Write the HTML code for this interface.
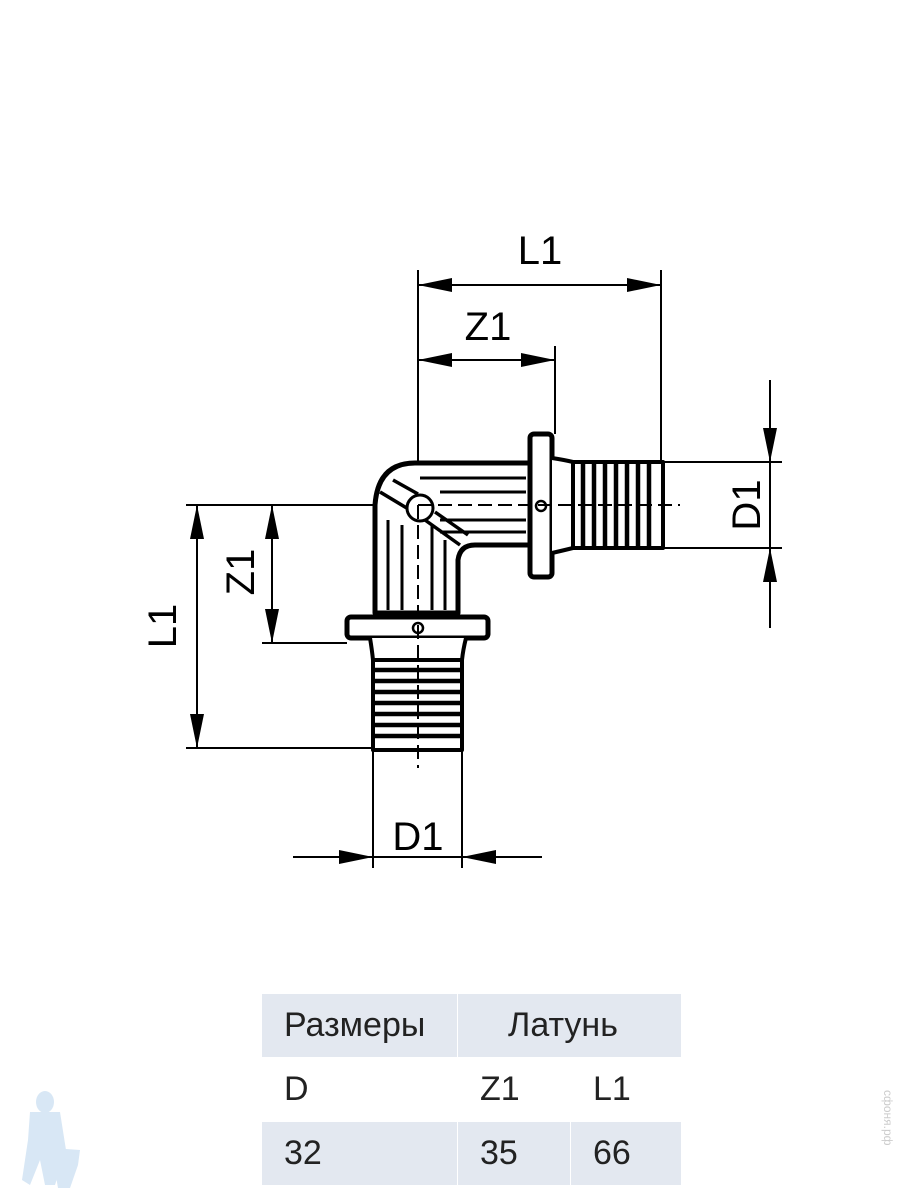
<!DOCTYPE html>
<html><head><meta charset="utf-8"><style>
html,body{margin:0;padding:0;background:#fff;width:900px;height:1200px;overflow:hidden}
svg{position:absolute;left:0;top:0}
table{position:absolute;left:261px;top:993px;border-collapse:collapse;font-family:"Liberation Sans",sans-serif;font-size:34px;color:#222}
td{padding:0 0 0 22px;height:63px;vertical-align:middle;border:1px solid #fff}
.g td{background:#e3e8f0}
</style></head><body>
<svg width="900" height="1200" viewBox="0 0 900 1200">
<defs>
<marker id="a" viewBox="0 0 34 14" refX="34" refY="7" markerWidth="34" markerHeight="14" markerUnits="userSpaceOnUse" orient="auto"><path d="M0,0L34,7L0,14z" fill="#000"/></marker>
</defs>
<g stroke="#000" stroke-width="2" fill="none">
<line x1="418" y1="270" x2="418" y2="462"/>
<line x1="661" y1="270" x2="661" y2="462"/>
<line x1="555" y1="346" x2="555" y2="434"/>
<line x1="663" y1="462" x2="782" y2="462"/>
<line x1="663" y1="548" x2="782" y2="548"/>
<line x1="186" y1="505" x2="418" y2="505"/>
<line x1="186" y1="748" x2="373" y2="748"/>
<line x1="262" y1="643" x2="347" y2="643"/>
<line x1="373" y1="750" x2="373" y2="868"/>
<line x1="462" y1="750" x2="462" y2="868"/>
<line x1="540" y1="285" x2="418" y2="285" marker-end="url(#a)"/>
<line x1="540" y1="285" x2="661" y2="285" marker-end="url(#a)"/>
<line x1="487" y1="360" x2="418" y2="360" marker-end="url(#a)"/>
<line x1="487" y1="360" x2="555" y2="360" marker-end="url(#a)"/>
<line x1="770" y1="380" x2="770" y2="462" marker-end="url(#a)"/>
<line x1="770" y1="628" x2="770" y2="548" marker-end="url(#a)"/>
<line x1="770" y1="462" x2="770" y2="548"/>
<line x1="197" y1="626" x2="197" y2="505" marker-end="url(#a)"/>
<line x1="197" y1="626" x2="197" y2="748" marker-end="url(#a)"/>
<line x1="272" y1="574" x2="272" y2="505" marker-end="url(#a)"/>
<line x1="272" y1="574" x2="272" y2="643" marker-end="url(#a)"/>
<line x1="293" y1="857" x2="373" y2="857" marker-end="url(#a)"/>
<line x1="542" y1="857" x2="462" y2="857" marker-end="url(#a)"/>
<line x1="373" y1="857" x2="462" y2="857"/>
</g>
<g stroke="#000" fill="#fff" stroke-width="5" stroke-linejoin="round">
<path d="M528,463 L415,463 Q378,463 375,505 L375,613 L458,613 L458,560 Q460,545 475,545 L528,545"/>
<path d="M380,492 L410,510 M393,480 L418,494 M425,520 L460,545 M435,512 L468,535" stroke-width="3.5"/>
<circle cx="420" cy="508" r="13" stroke-width="3"/>
<g stroke-width="3">
<line x1="420" y1="478" x2="526" y2="478"/>
<line x1="440" y1="492" x2="526" y2="492"/>
<line x1="440" y1="520" x2="526" y2="520"/>
<line x1="440" y1="532" x2="526" y2="532"/>
<line x1="388" y1="520" x2="388" y2="610"/>
<line x1="402" y1="525" x2="402" y2="610"/>
<line x1="432" y1="525" x2="432" y2="610"/>
<line x1="445" y1="540" x2="445" y2="610"/>
</g>
<rect x="530" y="434" width="22" height="143" rx="4"/>
<circle cx="541" cy="506" r="5" stroke-width="2.5"/>
<path d="M552,458 Q565,460 573,462 L573,548 Q565,550 552,553" stroke-width="4"/>
<rect x="573" y="462" width="90" height="86" stroke-width="4"/>
<g stroke-width="4.5">
<line x1="583" y1="462" x2="583" y2="548"/><line x1="594" y1="462" x2="594" y2="548"/><line x1="605" y1="462" x2="605" y2="548"/><line x1="616" y1="462" x2="616" y2="548"/><line x1="627" y1="462" x2="627" y2="548"/><line x1="638" y1="462" x2="638" y2="548"/><line x1="649" y1="462" x2="649" y2="548"/>
</g>
<rect x="347" y="617" width="141" height="21" rx="4"/>
<circle cx="418" cy="628" r="5" stroke-width="2.5"/>
<path d="M370,638 Q372,650 373,660 L462,660 Q463,650 466,638" stroke-width="4"/>
<rect x="373" y="660" width="89" height="90" stroke-width="4"/>
<g stroke-width="4.5">
<line x1="373" y1="670" x2="462" y2="670"/><line x1="373" y1="681" x2="462" y2="681"/><line x1="373" y1="692" x2="462" y2="692"/><line x1="373" y1="703" x2="462" y2="703"/><line x1="373" y1="714" x2="462" y2="714"/><line x1="373" y1="725" x2="462" y2="725"/><line x1="373" y1="736" x2="462" y2="736"/>
</g>
<line x1="418" y1="505" x2="418" y2="768" stroke-width="2" stroke-dasharray="14,6"/>
<line x1="418" y1="505" x2="680" y2="505" stroke-width="2" stroke-dasharray="14,6"/>
</g>
<g font-family="Liberation Sans, sans-serif" font-size="40" fill="#000" text-anchor="middle">
<text x="540" y="264">L1</text>
<text x="488" y="340">Z1</text>
<text x="418" y="850">D1</text>
<text transform="translate(760,505) rotate(-90)">D1</text>
<text transform="translate(176,626) rotate(-90)">L1</text>
<text transform="translate(254,572) rotate(-90)">Z1</text>
</g>
<g fill="#d8e7f5">
<ellipse cx="45" cy="1102" rx="9" ry="11"/>
<path d="M30,1112 L60,1112 L66,1150 L55,1185 L45,1185 L40,1160 L30,1185 L22,1180 L28,1140z"/>
<path d="M52,1148 L80,1150 L78,1165 L70,1188 L58,1188 L54,1165z"/>
</g>
<text transform="translate(884,1090) rotate(90)" font-family="Liberation Sans, sans-serif" font-size="12" fill="#ccc">сфоня.рф</text>
</svg>
<table>
<tr class="g"><td style="width:173px">Размеры</td><td colspan="2" style="padding-left:50px">Латунь</td></tr>
<tr><td>D</td><td style="width:90px">Z1</td><td style="width:88px">L1</td></tr>
<tr class="g"><td>32</td><td>35</td><td>66</td></tr>
</table>
</body></html>
